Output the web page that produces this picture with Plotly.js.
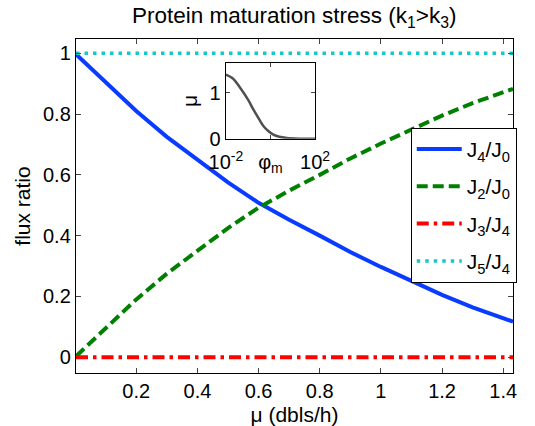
<!DOCTYPE html>
<html>
<head>
<meta charset="utf-8">
<script src="https://cdn.plot.ly/plotly-3.0.1.min.js"></script>
<style>html,body{margin:0;padding:0;background:#fff;}#chart{width:535px;height:426px;}</style>
</head>
<body>
<div id="chart"></div>
<script>
// Main plot data (growth rate mu in dbls/h)
const mu = [0.003, 0.1, 0.2, 0.3, 0.4, 0.5, 0.6, 0.7, 0.8, 0.9, 1.0, 1.1, 1.2, 1.3, 1.4, 1.432];
const j4j0 = [0.997, 0.905, 0.81, 0.725, 0.648, 0.575, 0.508, 0.452, 0.400, 0.346, 0.297, 0.250, 0.205, 0.164, 0.128, 0.117];
const j2j0 = [0.003, 0.095, 0.19, 0.275, 0.352, 0.425, 0.492, 0.548, 0.600, 0.654, 0.703, 0.750, 0.795, 0.836, 0.872, 0.883];
const j3j4 = [0, 0, 0, 0, 0, 0, 0, 0, 0, 0, 0, 0, 0, 0, 0, 0];
const j5j4 = [1, 1, 1, 1, 1, 1, 1, 1, 1, 1, 1, 1, 1, 1, 1, 1];
const seriesNames = ['J<sub>4</sub>/J<sub>0</sub>', 'J<sub>2</sub>/J<sub>0</sub>', 'J<sub>3</sub>/J<sub>4</sub>', 'J<sub>5</sub>/J<sub>4</sub>'];
const xTicks = [0.2, 0.4, 0.6, 0.8, 1, 1.2, 1.4];
const yTicks = [0, 0.2, 0.4, 0.6, 0.8, 1];

// Inset data: mu vs phi_m
const phiM = [0.01, 0.02, 0.0427, 0.1, 0.17, 0.3, 0.48, 0.8, 1.35, 2.5, 5.4, 20, 100];
const muInset = [1.40, 1.32, 1.12, 0.85, 0.64, 0.44, 0.28, 0.17, 0.09, 0.045, 0.02, 0.005, 0.0];
const insetXTicks = [0.01, 1, 100];
const insetXText = ['10<sup>-2</sup>', 'φ<sub>m</sub>', '10<sup>2</sup>'];
const insetYTicks = [0, 1];

const font = {family: 'Liberation Sans, Arial, sans-serif', size: 19, color: '#000'};

const traces = [
  {x: mu, y: j4j0, name: seriesNames[0], legendgroup: 'a', mode: 'lines', line: {color: '#0a3cff', width: 4}},
  {x: mu, y: j2j0, name: seriesNames[1], legendgroup: 'b', mode: 'lines', line: {color: '#008000', width: 4, dash: '11px,5px'}},
  {x: mu, y: j3j4, name: seriesNames[2], legendgroup: 'c', mode: 'lines', line: {color: '#ff0000', width: 4, dash: '12px,5px,3.5px,5px'}},
  {x: mu, y: j5j4, name: seriesNames[3], legendgroup: 'd', mode: 'lines', line: {color: '#16c8c8', width: 3.5, dash: '3.5px,5px'}},
  {x: phiM, y: muInset, xaxis: 'x2', yaxis: 'y2', mode: 'lines', showlegend: false,
   line: {color: '#505050', width: 2.5, shape: 'spline'}}
];

const layout = {
  width: 535, height: 426,
  margin: {l: 76, r: 22.3, t: 39.3, b: 52.7},
  paper_bgcolor: '#fff', plot_bgcolor: '#fff',
  font: font,
  showlegend: true,
  title: {text: 'Protein maturation stress (k<sub>1</sub>&gt;k<sub>3</sub>)', font: {size: 22.5}, x: 0.55, xanchor: 'center', y: 0.965, yanchor: 'middle'},
  xaxis: {
    range: [0.003, 1.432], tickvals: xTicks, ticks: 'inside', ticklen: 5, tickwidth: 1,
    showline: true, linecolor: '#000', linewidth: 1.2, mirror: 'ticks', showgrid: false, zeroline: false,
    title: {text: 'μ (dbls/h)', standoff: 6, font: {size: 21}}, tickfont: {size: 20}
  },
  yaxis: {
    range: [-0.052, 1.047], tickvals: yTicks, ticks: 'inside', ticklen: 5, tickwidth: 1,
    showline: true, linecolor: '#000', linewidth: 1.2, mirror: 'ticks', showgrid: false, zeroline: false,
    title: {text: 'flux ratio', standoff: 6, font: {size: 21}}, tickfont: {size: 20}
  },
  xaxis2: {
    type: 'log', range: [-2, 2], domain: [0.343, 0.547], anchor: 'y2',
    tickvals: insetXTicks, ticktext: insetXText, ticks: 'inside', ticklen: 4, ticklabelstandoff: 5,
    showline: true, linecolor: '#000', linewidth: 1.2, mirror: 'ticks', showgrid: false, zeroline: false,
    tickfont: {size: 20}
  },
  yaxis2: {
    range: [0, 1.65], domain: [0.701, 0.928], anchor: 'x2',
    tickvals: insetYTicks, ticks: 'inside', ticklen: 4,
    showline: true, linecolor: '#000', linewidth: 1.2, mirror: 'ticks', showgrid: false, zeroline: false,
    title: {text: 'μ', standoff: 6, font: {size: 21}}, tickfont: {size: 20}
  },
  legend: {
    x: 0.766, xanchor: 'left', y: 0.734, yanchor: 'top',
    bgcolor: '#fff', bordercolor: '#000', borderwidth: 1,
    font: {size: 21}, tracegroupgap: 7, itemwidth: 45
  }
};

Plotly.newPlot('chart', traces, layout, {displayModeBar: false, staticPlot: true});
</script>
</body>
</html>
